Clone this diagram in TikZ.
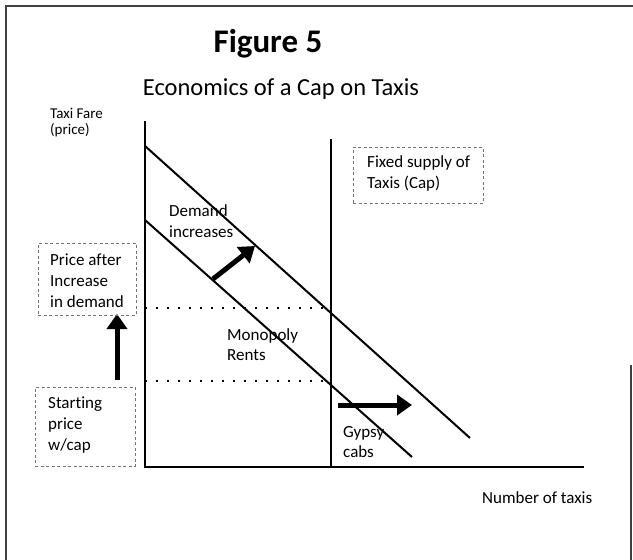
\documentclass[tikz,border=0pt]{standalone}
\usepackage{fontspec}
\setmainfont{Carlito}[Ligatures=NoCommon]
\usetikzlibrary{arrows.meta}
\begin{document}
\begin{tikzpicture}[x=1pt,y=-1pt,
  frameline/.style={line width=1.2pt, black!75},
  axisline/.style={line width=2.6pt, line cap=rect},
  capline/.style={line width=2pt},
  demandline/.style={line width=2pt},
  dotline/.style={line width=2pt, dash pattern=on 2pt off 9pt},
  notebox/.style={draw=black!55, line width=0.6pt, dash pattern=on 3pt off 2.5pt},
  lbl/.style={font=\fontsize{17}{21}\selectfont, inner sep=0pt, anchor=base west},
  smalllbl/.style={font=\fontsize{15}{17}\selectfont, inner sep=0pt, anchor=base west},
  bigarrow/.style={line width=5pt, -{Triangle[length=15pt,width=20pt]}}
]
\useasboundingbox (0,0) rectangle (633,560);
% frame
\draw[frameline] (6,560) -- (6,6) -- (633,6);
\draw[frameline] (631,365) -- (631,560);
% titles
\node[font=\bfseries\fontsize{33}{40}\selectfont, inner sep=0pt, anchor=base] (title) at (268,52) {Figure 5};
\node[font=\fontsize{24.5}{30}\selectfont, inner sep=0pt, anchor=base] (subtitle) at (281,95) {Economics of a Cap on Taxis};
% axis labels
\node[smalllbl] (yl1) at (50,118) {Taxi Fare};
\node[smalllbl] (yl2) at (50,134) {(price)};
\node[lbl] (xl) at (482,503) {Number of taxis};
% coordinates
\coordinate (O) at (145,467);
\coordinate (Ytop) at (145,122);
\coordinate (Xend) at (583,467);
\coordinate (capT) at (331,139);
\coordinate (capB) at (331,467);
\coordinate (d1s) at (145,146);
\coordinate (d1e) at (470,438);
\coordinate (d0s) at (145,220);
\coordinate (d0e) at (412,457);
\coordinate (p1a) at (145,308);
\coordinate (p1b) at (330,308);
\coordinate (p0a) at (145,381);
\coordinate (p0b) at (330,381);
% axes
\draw[axisline] (Ytop) -- (O) -- (Xend);
\draw[capline] (capT) -- (capB);
% demand curves
\draw[demandline] (d1s) -- (d1e);
\draw[demandline] (d0s) -- (d0e);
% price lines
\draw[dotline] (p1a) -- (p1b);
\draw[dotline] (p0a) -- (p0b);
% arrows
\coordinate (da) at (213,279);
\coordinate (db) at (255,246);
\draw[bigarrow] (da) -- (db);
\coordinate (ua) at (117,380);
\coordinate (ub) at (117,314);
\draw[bigarrow] (ua) -- (ub);
\coordinate (ha) at (338,405);
\coordinate (hb) at (412,405);
\draw[bigarrow] (ha) -- (hb);
% boxes
\node[notebox, minimum width=130pt, minimum height=56pt, anchor=north west, inner sep=0pt] (capbox) at (353,147) {};
\node[lbl] (cb1) at (367,167) {Fixed supply of};
\node[lbl] (cb2) at (367,188) {Taxis (Cap)};
\node[notebox, minimum width=98pt, minimum height=72pt, anchor=north west, inner sep=0pt] (pabox) at (38,243) {};
\node[lbl] (pa1) at (50,265) {Price after};
\node[lbl] (pa2) at (50,286) {Increase};
\node[lbl] (pa3) at (50,307) {in demand};
\node[notebox, minimum width=100pt, minimum height=79pt, anchor=north west, inner sep=0pt] (spbox) at (35,387) {};
\node[lbl] (sp1) at (48,408) {Starting};
\node[lbl] (sp2) at (48,429) {price};
\node[lbl] (sp3) at (48,450) {w/cap};
% other labels
\node[lbl] (di1) at (169,216) {Demand};
\node[lbl] (di2) at (169,237) {increases};
\node[lbl] (mr1) at (227,340) {Monopoly};
\node[lbl] (mr2) at (227,360) {Rents};
\node[lbl] (gc1) at (343,437) {Gypsy};
\node[lbl] (gc2) at (343,457) {cabs};
\end{tikzpicture}
\end{document}
